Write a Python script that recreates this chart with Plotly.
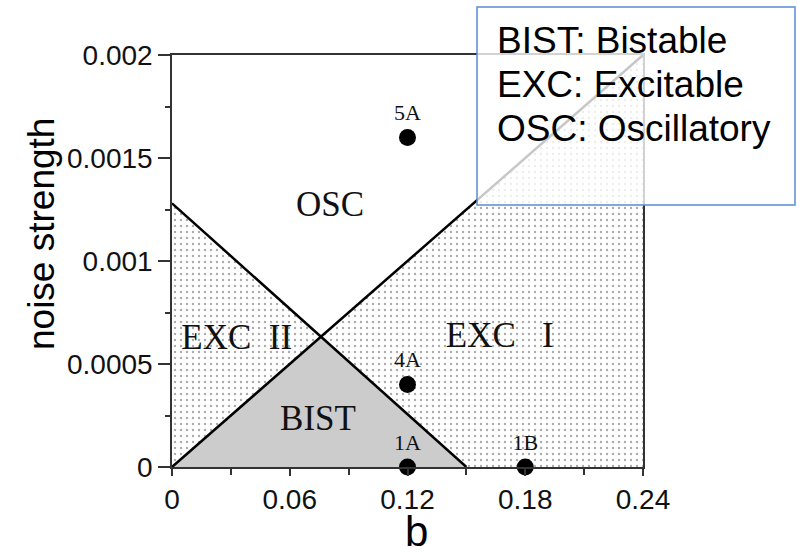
import plotly.graph_objects as go

# Boundary lines of the phase diagram
line1_b = [0.0, 0.24]
line1_noise = [0.0, 0.002]
line2_b = [0.0, 0.15]
line2_noise = [0.00128, 0.0]
cross_b = 0.0759
cross_noise = 0.000632

# Region polygons
bist_b = [0.0, cross_b, 0.15, 0.0]
bist_noise = [0.0, cross_noise, 0.0, 0.0]
exc2_b = [0.0, cross_b, 0.0, 0.0]
exc2_noise = [0.0, cross_noise, 0.00128, 0.0]
exc1_b = [cross_b, 0.24, 0.24, 0.15, cross_b]
exc1_noise = [cross_noise, 0.002, 0.0, 0.0, cross_noise]

# Region labels
region_names = ["OSC", "EXC  II", "EXC   I", "BIST"]
region_b = [0.0805, 0.033, 0.167, 0.0744]
region_noise = [0.00126, 0.000617, 0.000626, 0.000223]

# Sample points
point_names = ["5A", "4A", "1A", "1B"]
point_b = [0.12, 0.12, 0.12, 0.18]
point_noise = [0.0016, 0.0004, 0.0, 0.0]

x_ticks = [0, 0.06, 0.12, 0.18, 0.24]
x_ticktext = ["0", "0.06", "0.12", "0.18", "0.24"]
y_ticks = [0, 0.0005, 0.001, 0.0015, 0.002]
y_ticktext = ["0", "0.0005", "0.001", "0.0015", "0.002"]

legend_lines = ["BIST: Bistable", "EXC: Excitable", "OSC: Oscillatory"]
legend_centers_px = [40.5, 85, 128]

pattern = dict(shape=".", size=6, solidity=0.12, fgcolor="#555555", bgcolor="white")

fig = go.Figure()
fig.add_trace(go.Scatter(x=exc2_b, y=exc2_noise, mode="none", fill="toself",
                         fillcolor="white", fillpattern=pattern, hoverinfo="skip"))
fig.add_trace(go.Scatter(x=exc1_b, y=exc1_noise, mode="none", fill="toself",
                         fillcolor="white", fillpattern=pattern, hoverinfo="skip"))
fig.add_trace(go.Scatter(x=bist_b, y=bist_noise, mode="none", fill="toself",
                         fillcolor="#cccccc", hoverinfo="skip"))
fig.add_trace(go.Scatter(x=line1_b, y=line1_noise, mode="lines",
                         line=dict(color="black", width=2.5), cliponaxis=False))
fig.add_trace(go.Scatter(x=line2_b, y=line2_noise, mode="lines",
                         line=dict(color="black", width=2.5)))
fig.add_trace(go.Scatter(x=region_b, y=region_noise, mode="text", text=region_names,
                         textfont=dict(family="Liberation Serif", size=35, color="#111")))
fig.add_trace(go.Scatter(x=point_b, y=point_noise, mode="markers+text", text=point_names,
                         textposition="top center",
                         textfont=dict(family="Liberation Serif", size=22, color="#111"),
                         marker=dict(color="black", size=17), cliponaxis=False))

fig.update_xaxes(range=[0, 0.24], tickvals=x_ticks, ticktext=x_ticktext,
                 ticks="outside", ticklen=7, tickwidth=1.5, tickcolor="#333",
                 minor=dict(dtick=0.03, ticks="outside", ticklen=6, tickwidth=1.5, tickcolor="#333"),
                 showline=True, linecolor="#333", linewidth=1.5, mirror=True,
                 showgrid=False, zeroline=False,
                 tickfont=dict(family="Liberation Sans", size=28, color="#111"))
fig.update_yaxes(range=[0, 0.002], tickvals=y_ticks, ticktext=y_ticktext,
                 ticks="outside", ticklen=12, tickwidth=1.5, tickcolor="#333",
                 minor=dict(dtick=0.00025, ticks="outside", ticklen=5, tickwidth=1.5, tickcolor="#333"),
                 showline=True, linecolor="#333", linewidth=1.5, mirror=True,
                 showgrid=False, zeroline=False,
                 tickfont=dict(family="Liberation Sans", size=28, color="#111"))

fig.add_annotation(text="noise strength", xref="paper", yref="paper", x=(41 - 172) / 471, y=0.5655,
                   xanchor="center", yanchor="middle",
                   textangle=-90, showarrow=False,
                   font=dict(family="Liberation Sans", size=37, color="black"))
fig.add_annotation(text="b", xref="paper", yref="paper", x=0.52, y=(467 - 531) / 412,
                   xanchor="center", yanchor="middle",
                   showarrow=False, font=dict(family="Liberation Sans", size=42, color="black"))

fig.add_shape(type="rect", xref="paper", yref="paper", x0=0.6476, x1=1.3227, y0=0.636, y1=1.1165,
              fillcolor="rgba(255,255,255,0.78)", line=dict(color="#5b8bd5", width=1.5), layer="above")
for txt, cy in zip(legend_lines, legend_centers_px):
    fig.add_annotation(text=txt, xref="paper", yref="paper",
                       x=(495 - 172) / 471, y=(467 - cy) / 412, xanchor="left", yanchor="middle",
                       align="left", showarrow=False,
                       font=dict(family="Liberation Sans", size=37, color="black"))

fig.update_layout(width=797, height=556, showlegend=False,
                  margin=dict(l=172, r=154, t=55, b=89),
                  plot_bgcolor="white", paper_bgcolor="white")
fig.write_html("out.html")
